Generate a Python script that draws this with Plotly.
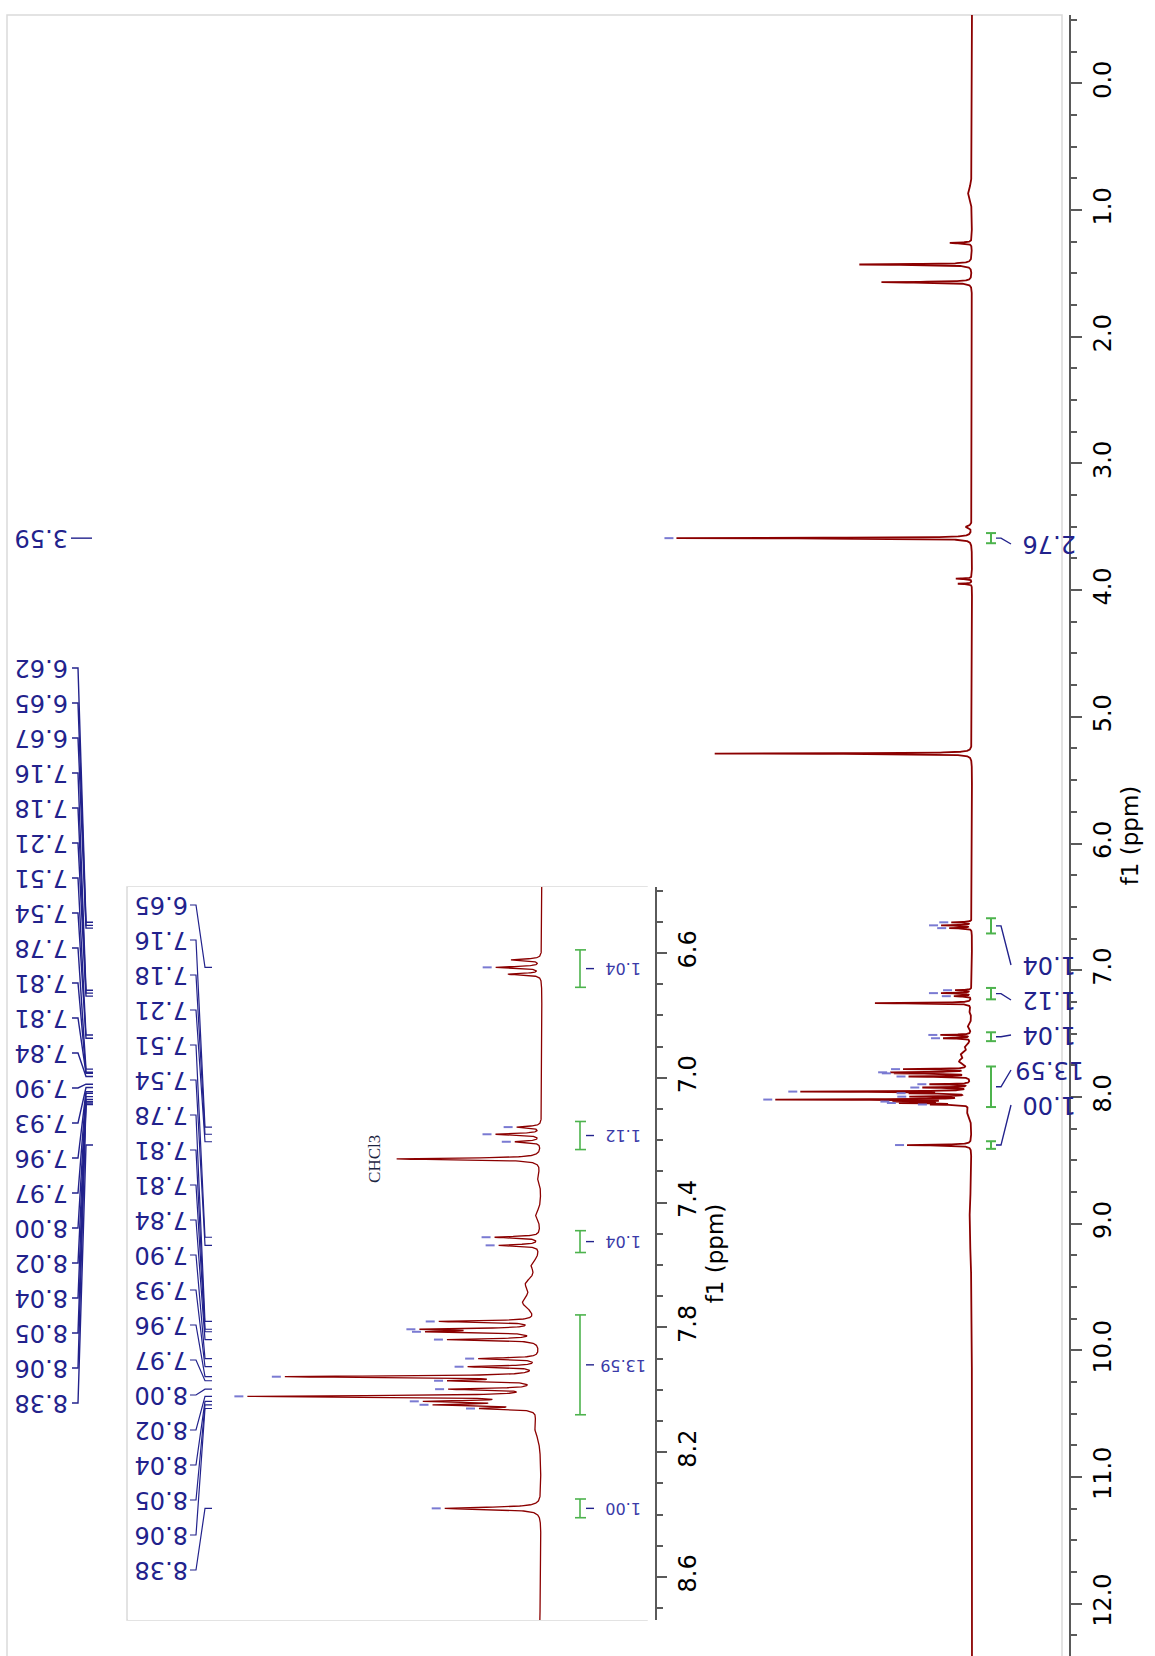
import numpy as np
import plotly.graph_objects as go

# ---------------------------------------------------------------- page geometry
FIG_W, FIG_H = 1155, 1656
M_L, M_R, M_T, M_B = 0, 86, 15, 0
PLOT_W = FIG_W - M_L - M_R
PLOT_H = FIG_H - M_T - M_B

# ---------------------------------------------------------------- 1H NMR peak table
# chemical shift (ppm), relative height (tallest aromatic line = 100), half width (ppm)
peak_ppm = [0.86, 1.26, 1.43, 1.57, 3.50, 3.59, 3.91, 3.95, 5.29,
            6.622, 6.646, 6.668,
            7.158, 7.181, 7.205, 7.260,
            7.511, 7.537,
            7.781, 7.806, 7.814, 7.839, 7.900, 7.926, 7.958, 7.971,
            7.998, 8.021, 8.037, 8.048, 8.060,
            8.380]
peak_height = [2, 11, 56, 45, 3, 147, 8, 7, 128,
               10, 15, 11,
               8, 15, 8.5, 48,
               15, 13.5,
               32, 35, 33, 30, 20, 23, 83, 26,
               28, 95, 33, 31, 17,
               32]
peak_hw = [0.05, 0.004, 0.004, 0.004, 0.01, 0.003, 0.003, 0.003, 0.003,
           0.003, 0.003, 0.003,
           0.003, 0.003, 0.003, 0.003,
           0.003, 0.003,
           0.003, 0.003, 0.003, 0.003, 0.003, 0.003, 0.003, 0.003,
           0.003, 0.003, 0.003, 0.003, 0.003,
           0.004]

# broad baseline humps and wiggles
hump_ppm = [7.32, 7.44, 7.60, 7.66, 7.72, 8.12, 9.0]
hump_height = [1.2, 1.8, 2.5, 4.0, 5.5, 2.0, 1.2]
hump_hw = [0.02, 0.02, 0.02, 0.025, 0.03, 0.04, 0.3]

# picked peaks (labelled) in the full spectrum and in the expansion
main_picks = [3.59,
              6.622, 6.646, 6.668, 7.158, 7.181, 7.205, 7.511, 7.537,
              7.781, 7.806, 7.814, 7.839, 7.900, 7.926, 7.958, 7.971,
              7.998, 8.021, 8.037, 8.048, 8.060, 8.380]
inset_picks = [6.646, 7.158, 7.181, 7.205, 7.511, 7.537,
               7.781, 7.806, 7.814, 7.839, 7.900, 7.926, 7.958, 7.971,
               7.998, 8.021, 8.037, 8.048, 8.060, 8.380]

# integrated regions (ppm from, ppm to) and normalised integrals
integral_from = [3.55, 6.59, 7.14, 7.49, 7.76, 8.35]
integral_to = [3.63, 6.71, 7.23, 7.56, 8.08, 8.41]
integral_value = [2.76, 1.04, 1.12, 1.04, 13.59, 1.00]

solvent_ppm = 7.26
solvent_name = "CHCl3"

# ---------------------------------------------------------------- spectrum
shift = np.arange(-0.6, 12.5, 0.0005)


def intensity(x):
    x = np.asarray(x, dtype=float)
    y = np.zeros_like(x)
    for c, h, w in zip(peak_ppm + hump_ppm, peak_height + hump_height, peak_hw + hump_hw):
        y += h / (1.0 + ((x - c) / w) ** 2)
    return y


spec = intensity(shift)

# ---------------------------------------------------------------- pixel <-> data helpers
# full spectrum: baseline column, pixels per intensity unit, ppm scale
MAIN_BASE, MAIN_PXU = 972.0, 2.01
MAIN_P0, MAIN_PPP = 83.3, 126.7
# expansion
INS_BASE, INS_PXU = 542.0, 3.01
INS_REF_PPM, INS_REF_PX, INS_PPP = 6.6, 953.0, 312.0
INS_L, INS_R, INS_T, INS_B = 128.0, 655.0, 887.0, 1620.0


def mx(px):
    return (MAIN_BASE - px) / MAIN_PXU


def my(py):
    return (py - MAIN_P0) / MAIN_PPP


def ix(px):
    return (INS_BASE - px) / INS_PXU


def iy(py):
    return INS_REF_PPM + (py - INS_REF_PX) / INS_PPP


def px_frac(px):
    return (px - M_L) / PLOT_W


def py_frac(py):
    return (FIG_H - M_B - py) / PLOT_H


NAVY = "#22228c"
DASH = "#7a7ad2"
RED = "#8b0000"
GREEN = "#4db34d"
AXIS = "#5a5a5a"

fig = go.Figure()

# full spectrum
fig.add_trace(go.Scatter(x=spec, y=shift, mode="lines", line=dict(color=RED, width=1.8),
                         xaxis="x", yaxis="y", hoverinfo="skip"))

# expansion
sel = (shift > 6.3) & (shift < 8.8)
fig.add_trace(go.Scatter(x=spec[sel], y=shift[sel], mode="lines", line=dict(color=RED, width=1.3),
                         xaxis="x2", yaxis="y2", hoverinfo="skip"))

annotations = []


def seg_trace(xs, ys, color, width, xa, ya):
    fig.add_trace(go.Scatter(x=xs, y=ys, mode="lines", line=dict(color=color, width=width),
                             xaxis=xa, yaxis=ya, hoverinfo="skip"))


# ---------------------------------------------------------------- peak labels, full spectrum
lx, ly = [], []
dx, dy = [], []
aromatic = [p for p in main_picks if p > 6.0]
for i, p in enumerate(aromatic):
    lab_py = 668 + 35 * i
    yl = my(lab_py)
    annotations.append(dict(x=mx(42), y=yl, xref="x", yref="y", text=f"{p:.2f}", textangle=180,
                            showarrow=False, font=dict(family="DejaVu Sans", size=24, color=NAVY),
                            xanchor="center", yanchor="middle"))
    lx += [mx(72), mx(78), mx(86), mx(93), None]
    ly += [yl, yl, p, p, None]
for p in main_picks:
    if p < 6.0:
        annotations.append(dict(x=mx(42), y=p, xref="x", yref="y", text=f"{p:.2f}", textangle=180,
                                showarrow=False, font=dict(family="DejaVu Sans", size=24, color=NAVY),
                                xanchor="center", yanchor="middle"))
        lx += [mx(71), mx(92), None]
        ly += [p, p, None]
for p in main_picks:
    tip = float(intensity([p])[0])
    dx += [tip + 3 / MAIN_PXU, tip + 12 / MAIN_PXU, None]
    dy += [p, p, None]
seg_trace(lx, ly, NAVY, 1.4, "x", "y")
seg_trace(dx, dy, DASH, 2, "x", "y")

# ---------------------------------------------------------------- integrals, full spectrum
main_int_py = [544, 965, 1000, 1035, 1070, 1105]
gx, gy, bx, by = [], [], [], []
for a, b, v, lp in zip(integral_from, integral_to, integral_value, main_int_py):
    mid = 0.5 * (a + b)
    gx += [mx(986), mx(996), None, mx(991), mx(991), None, mx(986), mx(996), None]
    gy += [a, a, None, a, b, None, b, b, None]
    yl = my(lp)
    bx += [mx(996), mx(1001), mx(1011), None]
    by += [mid, mid, yl, None]
    annotations.append(dict(x=mx(1050), y=yl, xref="x", yref="y", text=f"{v:.2f}", textangle=180,
                            showarrow=False, font=dict(family="DejaVu Sans", size=24, color=NAVY),
                            xanchor="center", yanchor="middle"))
seg_trace(gx, gy, GREEN, 2, "x", "y")
seg_trace(bx, by, NAVY, 1.4, "x", "y")

# ---------------------------------------------------------------- peak labels, expansion
lx, ly, dx, dy = [], [], [], []
for i, p in enumerate(inset_picks):
    lab_py = 905 + 35 * i
    yl = iy(lab_py)
    annotations.append(dict(x=ix(162), y=yl, xref="x2", yref="y2", text=f"{p:.2f}", textangle=180,
                            showarrow=False, font=dict(family="DejaVu Sans", size=24, color=NAVY),
                            xanchor="center", yanchor="middle"))
    lx += [ix(190), ix(196), ix(205), ix(212), None]
    ly += [yl, yl, p, p, None]
    tip = float(intensity([p])[0])
    dx += [tip + 4 / INS_PXU, tip + 13 / INS_PXU, None]
    dy += [p, p, None]
seg_trace(lx, ly, NAVY, 1.2, "x2", "y2")
seg_trace(dx, dy, DASH, 2, "x2", "y2")

# ---------------------------------------------------------------- integrals, expansion
gx, gy, bx, by = [], [], [], []
for a, b, v in zip(integral_from, integral_to, integral_value):
    if a < 6.3:
        continue
    mid = 0.5 * (a + b)
    gx += [ix(575), ix(586), None, ix(580), ix(580), None, ix(575), ix(586), None]
    gy += [a, a, None, a, b, None, b, b, None]
    bx += [ix(586), ix(594), None]
    by += [mid, mid, None]
    annotations.append(dict(x=ix(623), y=mid, xref="x2", yref="y2", text=f"{v:.2f}", textangle=180,
                            showarrow=False, font=dict(family="DejaVu Sans", size=16, color="#3a3aa8"),
                            xanchor="center", yanchor="middle"))
seg_trace(gx, gy, GREEN, 1.6, "x2", "y2")
seg_trace(bx, by, NAVY, 1.4, "x2", "y2")

# solvent tag
annotations.append(dict(x=ix(375), y=solvent_ppm, xref="x2", yref="y2", text=solvent_name,
                        textangle=-90, showarrow=False,
                        font=dict(family="Liberation Serif", size=17, color="#1c2541"),
                        xanchor="center", yanchor="middle"))

# ---------------------------------------------------------------- frames
shapes = [
    dict(type="rect", xref="paper", yref="paper", x0=px_frac(7), x1=px_frac(1062),
         y0=py_frac(1700), y1=py_frac(15), line=dict(color="#dadada", width=1.5), layer="below"),
    dict(type="rect", xref="paper", yref="paper", x0=px_frac(127), x1=px_frac(647),
         y0=py_frac(1620), y1=py_frac(887), line=dict(color="#dadada", width=1.5), layer="below"),
]

tickfont = dict(family="DejaVu Sans", size=24, color="black")
titlefont = dict(family="DejaVu Sans", size=23, color="black")

fig.update_layout(
    width=FIG_W, height=FIG_H, autosize=False,
    margin=dict(l=M_L, r=M_R, t=M_T, b=M_B, pad=0),
    paper_bgcolor="white", plot_bgcolor="white",
    showlegend=False,
    annotations=annotations, shapes=shapes,
    xaxis=dict(domain=[0, 1], range=[mx(0), mx(PLOT_W)], visible=False, anchor="y"),
    yaxis=dict(domain=[0, 1], anchor="x", side="right",
               range=[my(FIG_H), my(M_T)],
               showline=True, linecolor=AXIS, linewidth=2,
               ticks="outside", ticklen=11, tickwidth=2, tickcolor=AXIS,
               tick0=0, dtick=1, tickformat=".1f", tickangle=-90, tickfont=tickfont,
               minor=dict(dtick=0.25, tick0=0, ticks="outside", ticklen=6, tickwidth=2, tickcolor=AXIS),
               showgrid=False, zeroline=False,
               title=dict(text="f1 (ppm)", font=titlefont, standoff=4)),
    xaxis2=dict(domain=[px_frac(INS_L), px_frac(INS_R)], range=[ix(INS_L), ix(INS_R)],
                visible=False, anchor="y2"),
    yaxis2=dict(domain=[py_frac(INS_B), py_frac(INS_T)], anchor="x2", side="right",
                range=[iy(INS_B), iy(INS_T)],
                showline=True, linecolor=AXIS, linewidth=2,
                ticks="outside", ticklen=10, tickwidth=2, tickcolor=AXIS,
                tick0=6.6, dtick=0.4, tickformat=".1f", tickangle=-90, tickfont=tickfont,
                minor=dict(dtick=0.1, tick0=6.6, ticks="outside", ticklen=6, tickwidth=2, tickcolor=AXIS),
                showgrid=False, zeroline=False,
                title=dict(text="f1 (ppm)", font=titlefont, standoff=2)),
)

fig.write_html("out.html")
